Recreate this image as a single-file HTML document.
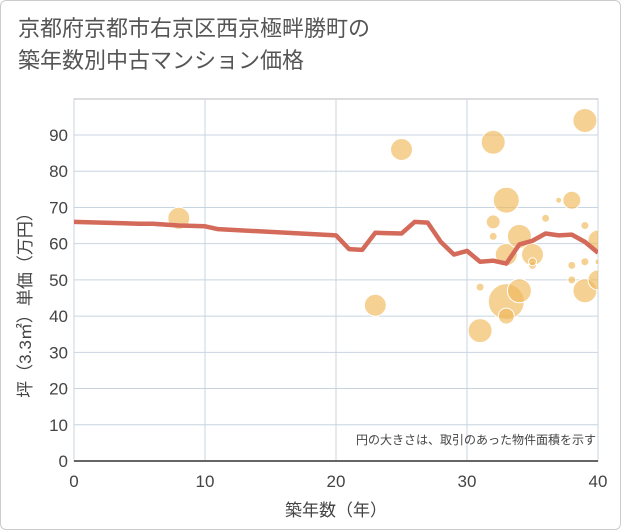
<!DOCTYPE html>
<html><head><meta charset="utf-8"><style>
body{margin:0;background:#fff;}
.w{position:relative;width:619px;height:528px;border:1px solid #ccc;border-radius:6px;overflow:hidden;font-family:"Liberation Sans","Noto Sans CJK JP",sans-serif;}
.t{position:absolute;left:17px;top:12px;font-size:22px;color:#555;line-height:32px;}
svg{position:absolute;left:0;top:0}
</style></head><body>
<div class="w">
<div class="t">京都府京都市右京区西京極畔勝町の<br>築年数別中古マンション価格</div>
<svg id="c" width="621" height="530"><defs><clipPath id="pc"><rect x="73" y="98" width="524" height="362"/></clipPath></defs></svg>
</div>
<script>
const xTicks=[0,10,20,30,40];
const yTicks=[0,10,20,30,40,50,60,70,80,90];
const bubX=[8,23,25,32,31,33,32,31,32,33,34,33,34,33,35,35,35,36,37,38,38,38,39,39,39,39,40,40,40];
const bubY=[67,43,86,88,36,72,66,48,62,57,62,44,47,40,57,54,55,67,72,72,54,50,65,55,47,94,61,50,55];
const bubR=[11,11,11,12,12,13,7,4,4,11,12,18,12,8,11,4,4,4,3,9,4,4,4,4,12,12,10,10,3];
const lineX=[0,5,6,8,10,11,20,21,22,23,25,26,27,28,29,30,31,32,33,34,35,36,37,38,39,40];
const lineY=[66,65.5,65.5,65,64.8,64,62.3,58.5,58.3,63,62.8,66,65.8,60.5,57,58,55,55.3,54.5,59.8,60.8,62.8,62.3,62.5,60.5,57.5];
const L=73,R=597,T=98,B=460;
const sx=v=>L+v*(R-L)/40, sy=v=>B-v*(B-134)/90;
const s=document.getElementById('c');const NS='http://www.w3.org/2000/svg';
function mk(t,a,p){const e=document.createElementNS(NS,t);for(const k in a)e.setAttribute(k,a[k]);(p||s).appendChild(e);return e;}
mk('rect',{x:L,y:T,width:R-L,height:B-T,fill:'#fff',stroke:'#bbb'});
yTicks.forEach(v=>{const l=mk('line',{x1:L,x2:R,y1:sy(v),y2:sy(v),stroke:'#c8d4e0'});


const t=mk('text',{x:L-6,y:sy(v)+6,'text-anchor':'end','font-size':17,fill:'#444'});t.textContent=v;

});
xTicks.forEach(v=>{const l=mk('line',{x1:sx(v),x2:sx(v),y1:T,y2:B,stroke:'#c8d4e0'});


const t=mk('text',{x:sx(v),y:B+26,'text-anchor':'middle','font-size':17,fill:'#444'});t.textContent=v;

});
const g=mk('g',{'clip-path':'url(#pc)'});


bubX.forEach((x,i)=>{const c=mk('circle',{cx:sx(x),cy:sy(bubY[i]),r:bubR[i],fill:'rgba(240,184,90,0.65)',stroke:'#fff','stroke-width':1},g);

});
const p=mk('polyline',{points:lineX.map((x,i)=>sx(x)+','+sy(lineY[i])).join(' '),fill:'none',stroke:'#d46a5a','stroke-width':4.5,'stroke-linejoin':'round'},g);


mk('line',{x1:L,x2:R,y1:B,y2:B,stroke:'#333','stroke-width':1.5});
let t=mk('text',{x:595,y:443,'text-anchor':'end','font-size':12,fill:'#444'});t.textContent='円の大きさは、取引のあった物件面積を示す';


t=mk('text',{x:335,y:515,'text-anchor':'middle','font-size':17,fill:'#444'});t.textContent='築年数（年）';


t=mk('text',{x:0,y:0,'text-anchor':'middle','font-size':17,fill:'#444',transform:'translate(30,300) rotate(-90)'});t.textContent='坪（3.3㎡）単価（万円）';


</script>
</body></html>
